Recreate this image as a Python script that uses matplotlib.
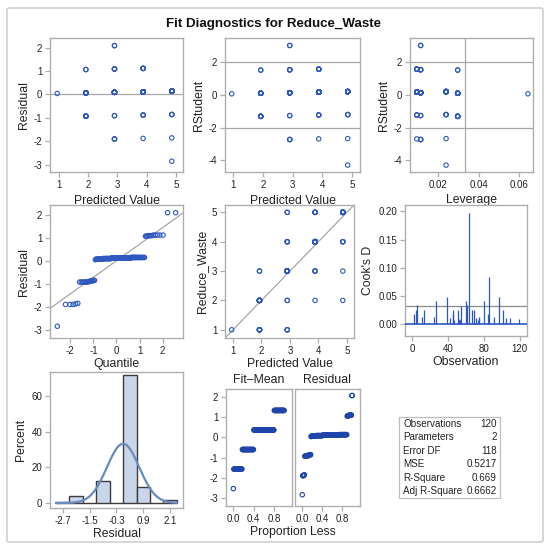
import numpy as np
import matplotlib
matplotlib.use("Agg")
import matplotlib.pyplot as plt
from matplotlib.patches import FancyBboxPatch
from statistics import NormalDist

# ---------------- data ----------------
N_OBS = 120
# observations that are off the diagonal (or visibly influential), by (x, Reduce_Waste) cell
cell_x = [5, 5, 3, 3, 4, 2, 2, 5, 3, 4, 3, 4]
cell_y = [2, 3, 5, 1, 2, 3, 1, 4, 4, 5, 2, 3]
cell_obs = [[63], [86], [39, 97], [26, 60, 80], [54], [5, 61],
            [4, 13, 45, 51, 67, 69, 101], [2, 46, 85], [11, 24, 74, 91],
            [42, 71, 75, 105, 109], [52, 119], [47, 53, 73]]
# remaining observations with Reduce_Waste equal to x
diag_level = [1, 2, 3, 4, 5]
diag_count = [1, 11, 16, 39, 19]

table_labels = ["Observations", "Parameters", "Error DF", "MSE", "R-Square", "Adj R-Square"]
table_values = ["120", "2", "118", "0.5217", "0.669", "0.6662"]

# ---------------- build observations ----------------
X = np.zeros(N_OBS)
Y = np.zeros(N_OBS)
used = set()
for cx, cy, obs in zip(cell_x, cell_y, cell_obs):
    for o in obs:
        X[o - 1] = cx
        Y[o - 1] = cy
        used.add(o)
rest = [o for o in range(1, N_OBS + 1) if o not in used]
diag_seq = np.repeat(diag_level, diag_count)
for o, v in zip(rest, diag_seq):
    X[o - 1] = v
    Y[o - 1] = v

n = N_OBS
p = 2
b, a = np.polyfit(X, Y, 1)
pred = a + b * X
res = Y - pred
sse = np.sum(res ** 2)
mse = sse / (n - p)
xbar = X.mean()
sxx = np.sum((X - xbar) ** 2)
lev = 1.0 / n + (X - xbar) ** 2 / sxx
s_i2 = (sse - res ** 2 / (1 - lev)) / (n - p - 1)
rstud = res / np.sqrt(s_i2 * (1 - lev))
cook = res ** 2 / (p * mse) * lev / (1 - lev) ** 2
obs_no = np.arange(1, n + 1)

# ---------------- style ----------------
plt.rcParams["font.family"] = ["Liberation Sans", "DejaVu Sans"]
plt.rcParams["axes.unicode_minus"] = False
BLUE = "#2E58C0"
GRAY = "#A6A6A6"
FRAME = "#AEAEAE"
TXT = "#222222"
TICK_FS = 7
LAB_FS = 8.8
XPAD = 3.5

W, H = 549, 550
fig = plt.figure(figsize=(W / 100, H / 100), dpi=100)

frame = FancyBboxPatch((7 / W, 8 / H), 536 / W, 534 / H, boxstyle="round,pad=0,rounding_size=0.004",
                       transform=fig.transFigure, fill=False, edgecolor="#CFCFCF", linewidth=1.2)
fig.patches.append(frame)

fig.text(274 / W, 1 - 24 / H, "Fit Diagnostics for Reduce_Waste", ha="center", va="center",
         fontsize=9.6, fontweight="bold", color="#111111")


def ax_px(x0, y0, x1, y1):
    ax = fig.add_axes([x0 / W, 1 - y1 / H, (x1 - x0) / W, (y1 - y0) / H])
    for s in ax.spines.values():
        s.set_color(FRAME)
        s.set_linewidth(1.0)
    ax.tick_params(colors=FRAME, labelcolor=TXT, labelsize=TICK_FS, length=3.5, width=0.9, pad=2)
    return ax


def scat(ax, xv, yv, color=BLUE):
    ax.scatter(xv, yv, s=10, facecolors="none", edgecolors=color, linewidths=0.8, zorder=3)


# ---- Row 1 ----
ax1 = ax_px(50, 38, 183, 172)
scat(ax1, pred, res)
ax1.axhline(0, color=GRAY, lw=0.9, zorder=1)
ax1.set_xlim(0.71, 5.24)
ax1.set_ylim(-3.32, 2.42)
ax1.set_xticks([1, 2, 3, 4, 5])
ax1.set_yticks([-3, -2, -1, 0, 1, 2])
ax1.set_xlabel("Predicted Value", fontsize=LAB_FS, color=TXT, labelpad=XPAD)
ax1.set_ylabel("Residual", fontsize=LAB_FS, color=TXT, labelpad=3)

ax2 = ax_px(225, 38, 360, 172)
scat(ax2, pred, rstud)
for yv in (-2, 2):
    ax2.axhline(yv, color=GRAY, lw=0.9, zorder=1)
ax2.set_xlim(0.73, 5.27)
ax2.set_ylim(-4.71, 3.47)
ax2.set_xticks([1, 2, 3, 4, 5])
ax2.set_yticks([-4, -2, 0, 2])
ax2.set_xlabel("Predicted Value", fontsize=LAB_FS, color=TXT, labelpad=XPAD)
ax2.set_ylabel("RStudent", fontsize=LAB_FS, color=TXT, labelpad=3)

ax3 = ax_px(410, 38, 533, 172)
scat(ax3, lev, rstud)
for yv in (-2, 2):
    ax3.axhline(yv, color=GRAY, lw=0.9, zorder=1)
ax3.axvline(2 * p / n, color=GRAY, lw=0.9, zorder=1)
ax3.set_xlim(0.0062, 0.0668)
ax3.set_ylim(-4.71, 3.47)
ax3.set_xticks([0.02, 0.04, 0.06])
ax3.set_xticklabels(["0.02", "0.04", "0.06"])
ax3.set_yticks([-4, -2, 0, 2])
ax3.set_xlabel("Leverage", fontsize=LAB_FS, color=TXT, labelpad=XPAD)
ax3.set_ylabel("RStudent", fontsize=LAB_FS, color=TXT, labelpad=3)

# ---- Row 2 ----
ax4 = ax_px(50, 205, 183, 338)
order = np.argsort(res)
nd = NormalDist()
quant = np.array([nd.inv_cdf((i - 0.375) / (n + 0.25)) for i in range(1, n + 1)])
scat(ax4, quant, res[order])
xl = np.array([-2.88, 2.88])
sd_res = np.sqrt(mse)
ax4.plot(xl, res.mean() + sd_res * xl, color=GRAY, lw=0.9, zorder=1)
ax4.set_xlim(-2.88, 2.88)
ax4.set_ylim(-3.37, 2.43)
ax4.set_xticks([-2, -1, 0, 1, 2])
ax4.set_yticks([-3, -2, -1, 0, 1, 2])
ax4.set_xlabel("Quantile", fontsize=LAB_FS, color=TXT, labelpad=2)
ax4.set_ylabel("Residual", fontsize=LAB_FS, color=TXT, labelpad=3)

ax5 = ax_px(225, 205, 354, 338)
scat(ax5, pred, Y)
lim5 = (0.72, 5.25)
ax5.plot(lim5, lim5, color=GRAY, lw=0.9, zorder=1)
ax5.set_xlim(*lim5)
ax5.set_ylim(0.72, 5.25)
ax5.set_xticks([1, 2, 3, 4, 5])
ax5.set_yticks([1, 2, 3, 4, 5])
ax5.set_xlabel("Predicted Value", fontsize=LAB_FS, color=TXT, labelpad=2)
ax5.set_ylabel("Reduce_Waste", fontsize=LAB_FS, color=TXT, labelpad=3)

ax6 = ax_px(405, 205, 527, 336)
ax6.vlines(obs_no, 0, cook, color=BLUE, lw=0.9, zorder=3)
ax6.axhline(0, color=BLUE, lw=1.2, zorder=3)
ax6.axhline(4.0 / n, color="#8C8C8C", lw=0.9, zorder=2)
ax6.set_xlim(-8.2, 128.2)
ax6.set_ylim(-0.0205, 0.2115)
ax6.set_xticks([0, 40, 80, 120])
ax6.set_yticks([0, 0.05, 0.10, 0.15, 0.20])
ax6.set_yticklabels(["0.00", "0.05", "0.10", "0.15", "0.20"])
ax6.set_xlabel("Observation", fontsize=LAB_FS, color=TXT, labelpad=2)
ax6.set_ylabel("Cook's D", fontsize=LAB_FS, color=TXT, labelpad=3)

# ---- Row 3 ----
ax7 = ax_px(50, 372, 183, 508)
edges = np.round(np.arange(-3.0, 2.41, 0.6), 2)
cnt, _ = np.histogram(res, bins=edges)
pct = cnt / n * 100
centers = (edges[:-1] + edges[1:]) / 2
ax7.bar(centers, pct, width=0.6, color="#C9D5E8", edgecolor="#3C3C3C", linewidth=1.0, zorder=2)
xs = np.linspace(-3.0, 2.4, 200)
sd_all = res.std(ddof=1)
curve = 100 * 0.6 * np.exp(-0.5 * ((xs - res.mean()) / sd_all) ** 2) / (sd_all * np.sqrt(2 * np.pi))
ax7.plot(xs, curve, color="#6A8BBE", lw=1.6, zorder=3)
ax7.set_xlim(-3.27, 2.68)
ax7.set_ylim(-2.8, 73.6)
ax7.set_xticks([-2.7, -1.5, -0.3, 0.9, 2.1])
ax7.set_xticklabels(["-2.7", "-1.5", "-0.3", "0.9", "2.1"])
ax7.set_yticks([0, 20, 40, 60])
ax7.set_xlabel("Residual", fontsize=LAB_FS, color=TXT, labelpad=2)
ax7.set_ylabel("Percent", fontsize=LAB_FS, color=TXT, labelpad=3)

fitmean = np.sort(pred - Y.mean())
res_sorted = np.sort(res)
prop = (np.arange(1, n + 1) - 0.5) / n
axL = ax_px(226, 389, 292, 506)
axR = ax_px(295, 389, 360, 506)
DARK = "#1F45AA"
scat(axL, prop, fitmean, DARK)
scat(axR, prop, res_sorted, DARK)
for ax, ttl in ((axL, "Fit\u2013Mean"), (axR, "Residual")):
    ax.set_xlim(-0.14, 1.15)
    ax.set_ylim(-3.42, 2.42)
    ax.set_xticks([0.0, 0.4, 0.8])
    ax.set_xticklabels(["0.0", "0.4", "0.8"])
    ax.set_yticks([-3, -2, -1, 0, 1, 2])
    ax.set_title(ttl, fontsize=LAB_FS, color=TXT, pad=4)
axR.tick_params(axis="y", labelleft=False, length=0)
fig.text(293 / W, 1 - 532 / H, "Proportion Less", ha="center", va="center", fontsize=LAB_FS, color=TXT)

# ---- stats table ----
tx0, ty0, tx1, ty1 = 399, 417, 500, 498
fig.patches.append(plt.Rectangle((tx0 / W, 1 - ty1 / H), (tx1 - tx0) / W, (ty1 - ty0) / H,
                                 transform=fig.transFigure, fill=False, edgecolor="#BDBDBD", lw=0.9))
row_h = (ty1 - ty0) / len(table_labels)
for i, (lab, val) in enumerate(zip(table_labels, table_values)):
    yy = ty0 + row_h * (i + 0.5)
    fig.text((tx0 + 4) / W, 1 - yy / H, lab, ha="left", va="center", fontsize=7.1, color=TXT)
    fig.text((tx1 - 3) / W, 1 - yy / H, val, ha="right", va="center", fontsize=7.1, color=TXT)

fig.savefig("out.png", dpi=100)
